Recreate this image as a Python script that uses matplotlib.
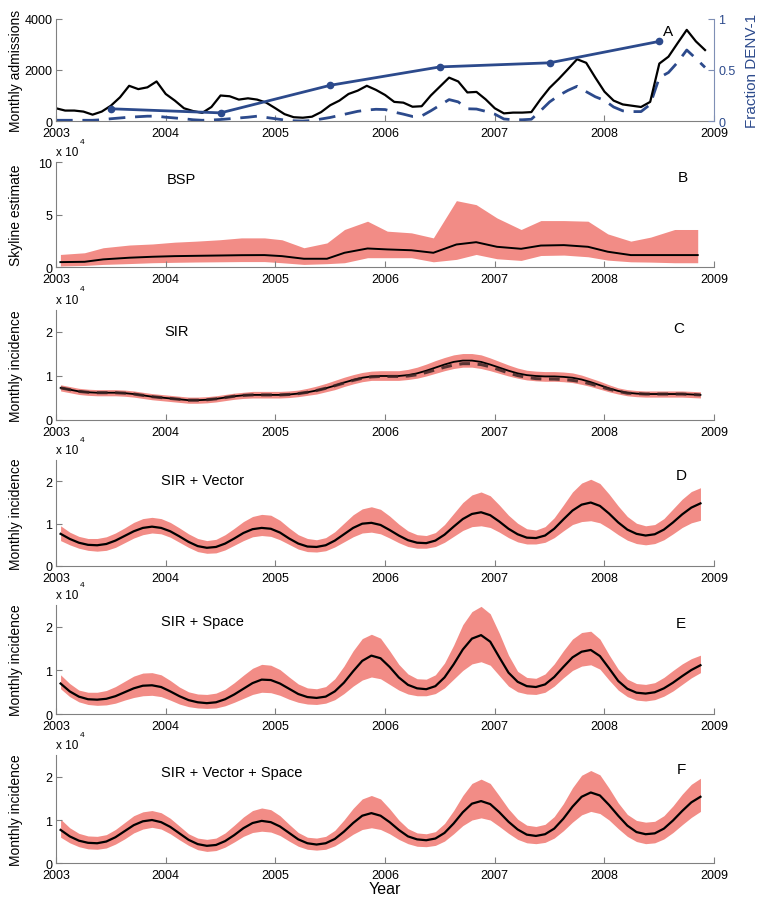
import numpy as np
import matplotlib
matplotlib.use('Agg')
import matplotlib.pyplot as plt

plt.rcParams['font.family'] = ['Liberation Sans Narrow', 'Liberation Sans', 'DejaVu Sans']

# ---- data ----
year_ticks = [2003, 2004, 2005, 2006, 2007, 2008, 2009]

# panel A: monthly admissions (Jan 2003 .. Dec 2008)
admissions = [500, 410, 410, 370, 250, 370, 600, 930, 1380, 1250, 1320, 1550,
              1060, 800, 500, 390, 320, 550, 1000, 970, 840, 890, 840, 720,
              500, 270, 150, 130, 170, 350, 620, 800, 1060, 1190, 1380, 1220,
              1020, 750, 720, 560, 580, 1000, 1350, 1700, 1550, 1120, 1140, 850,
              500, 300, 330, 330, 350, 850, 1300, 1650, 2030, 2420, 2280, 1700,
              1150, 800, 650, 600, 550, 750, 2250, 2520, 3050, 3570, 3120, 2780]
denv1_admissions = [30, 30, 30, 30, 30, 50, 90, 120, 150, 170, 190, 190,
                    150, 120, 90, 50, 30, 40, 60, 90, 120, 150, 190, 140,
                    90, 40, 10, 0, 20, 80, 140, 220, 300, 380, 430, 460,
                    450, 350, 270, 180, 200, 400, 620, 840, 750, 480, 470, 380,
                    270, 80, 50, 50, 70, 400, 750, 1000, 1200, 1360, 1150, 950,
                    810, 550, 400, 370, 370, 650, 1700, 1900, 2300, 2780, 2450, 2100]
frac_years = [2003.5, 2004.5, 2005.5, 2006.5, 2007.5, 2008.5]
frac_denv1 = [0.12, 0.08, 0.35, 0.53, 0.57, 0.78]

# panel B: skyline (x 10^4)
bsp_t = [2003.04, 2003.26, 2003.43, 2003.67, 2003.88, 2004.08, 2004.28, 2004.49, 2004.69, 2004.9,
         2005.06, 2005.26, 2005.47, 2005.63, 2005.84, 2006.02, 2006.24, 2006.44, 2006.65, 2006.83,
         2007.02, 2007.24, 2007.42, 2007.63, 2007.85, 2008.03, 2008.24, 2008.42, 2008.64, 2008.85]
bsp_hi = [1.2, 1.36, 1.84, 2.1, 2.2, 2.37, 2.47, 2.6, 2.78, 2.78, 2.6, 1.84, 2.3, 3.58, 4.37,
          3.42, 3.26, 2.78, 6.33, 5.95, 4.68, 3.58, 4.43, 4.43, 4.37, 3.16, 2.47, 2.85, 3.58, 3.58]
bsp_med = [0.47, 0.5, 0.73, 0.89, 0.98, 1.04, 1.07, 1.1, 1.13, 1.14, 1.04, 0.79, 0.79, 1.36, 1.77,
           1.68, 1.6, 1.36, 2.15, 2.37, 1.93, 1.74, 2.05, 2.09, 1.93, 1.46, 1.14, 1.14, 1.14, 1.14]
bsp_lo = [0.1, 0.15, 0.25, 0.33, 0.41, 0.45, 0.48, 0.5, 0.52, 0.52, 0.41, 0.25, 0.32, 0.41, 0.89,
          0.89, 0.89, 0.5, 0.73, 1.2, 0.79, 0.63, 1.1, 1.14, 0.98, 0.66, 0.5, 0.47, 0.41, 0.41]

# panels C-F: monthly incidence (x 10^4), mid-month Jan 2003 .. Nov 2008
sir_med = [.73, .69, .65, .63, .62, .62, .62, .61, .59, .56, .53, .51,
           .49, .47, .45, .45, .46, .48, .51, .54, .56, .57, .57, .57,
           .57, .58, .60, .63, .67, .72, .78, .85, .91, .96, .99, 1.00,
           1.00, 1.00, 1.02, 1.06, 1.12, 1.19, 1.26, 1.32, 1.35, 1.35, 1.32, 1.26,
           1.19, 1.12, 1.06, 1.02, 1.00, .99, .99, .98, .96, .92, .86, .79,
           .72, .66, .62, .60, .59, .59, .59, .59, .59, .58, .57]
sir_alt = [.73, .69, .65, .63, .62, .62, .62, .61, .59, .56, .53, .51,
           .49, .47, .45, .45, .46, .48, .51, .54, .56, .57, .57, .57,
           .57, .58, .60, .63, .67, .72, .78, .84, .90, .95, .98, .99,
           .99, .99, 1.00, 1.03, 1.08, 1.14, 1.20, 1.25, 1.28, 1.28, 1.26, 1.21,
           1.14, 1.07, 1.01, .97, .94, .93, .93, .92, .90, .87, .82, .76,
           .70, .65, .61, .60, .59, .59, .59, .59, .59, .58, .57]
sir_hi = [.80, .76, .72, .70, .69, .69, .69, .68, .66, .63, .60, .58,
          .56, .54, .52, .52, .53, .55, .58, .61, .63, .65, .65, .65,
          .65, .66, .68, .72, .77, .83, .90, .97, 1.03, 1.08, 1.11, 1.12,
          1.12, 1.12, 1.15, 1.20, 1.27, 1.35, 1.42, 1.48, 1.51, 1.51, 1.48, 1.41,
          1.33, 1.25, 1.18, 1.13, 1.11, 1.10, 1.10, 1.09, 1.07, 1.02, .95, .88,
          .80, .73, .69, .67, .66, .66, .66, .66, .66, .65, .64]
sir_lo = [.66, .62, .58, .56, .55, .55, .55, .54, .52, .49, .46, .44,
          .42, .40, .38, .38, .39, .41, .44, .47, .49, .50, .50, .50,
          .50, .51, .53, .56, .59, .64, .69, .76, .82, .87, .90, .90,
          .90, .90, .92, .95, 1.00, 1.06, 1.12, 1.17, 1.20, 1.20, 1.17, 1.12,
          1.06, 1.00, .95, .91, .89, .88, .88, .87, .85, .81, .76, .70,
          .64, .59, .55, .53, .52, .52, .52, .52, .52, .51, .50]

vec_med = [.76, .64, .55, .50, .49, .52, .60, .71, .82, .90, .93, .90,
           .82, .70, .57, .47, .43, .45, .53, .65, .78, .87, .90, .88,
           .79, .65, .53, .46, .45, .49, .60, .75, .90, 1.00, 1.02, .97,
           .85, .72, .61, .55, .54, .60, .74, .93, 1.11, 1.23, 1.27, 1.20,
           1.05, .88, .75, .67, .66, .72, .88, 1.10, 1.31, 1.45, 1.50, 1.42,
           1.24, 1.03, .86, .76, .72, .75, .86, 1.03, 1.22, 1.38, 1.48]
vec_hi = [.95, .80, .70, .65, .65, .69, .78, .90, 1.03, 1.12, 1.15, 1.12,
          1.03, .90, .76, .65, .60, .63, .74, .89, 1.05, 1.17, 1.22, 1.20,
          1.08, .90, .74, .65, .62, .67, .81, 1.01, 1.21, 1.35, 1.40, 1.34,
          1.18, .99, .83, .74, .72, .79, .98, 1.24, 1.50, 1.68, 1.75, 1.66,
          1.44, 1.20, 1.01, .88, .85, .93, 1.14, 1.44, 1.75, 1.96, 2.05, 1.95,
          1.70, 1.42, 1.17, 1.01, .95, .98, 1.12, 1.35, 1.58, 1.76, 1.85]
vec_lo = [.60, .50, .42, .37, .35, .37, .44, .55, .66, .74, .78, .76,
          .68, .56, .44, .34, .30, .31, .38, .49, .60, .69, .72, .70,
          .62, .51, .40, .34, .33, .36, .45, .57, .69, .78, .80, .76,
          .66, .55, .46, .42, .42, .46, .56, .70, .84, .93, .95, .91,
          .80, .67, .57, .52, .52, .56, .67, .83, .98, 1.05, 1.07, 1.02,
          .89, .74, .61, .53, .50, .53, .62, .76, .91, 1.02, 1.08]

spc_med = [.70, .52, .40, .34, .33, .35, .41, .50, .59, .65, .66, .62,
           .52, .41, .32, .27, .25, .27, .34, .45, .58, .71, .79, .78,
           .70, .58, .46, .39, .37, .40, .52, .72, .98, 1.22, 1.34, 1.28,
           1.08, .84, .67, .59, .57, .64, .84, 1.14, 1.48, 1.73, 1.81, 1.66,
           1.30, .95, .74, .64, .62, .68, .85, 1.08, 1.30, 1.43, 1.47, 1.33,
           1.05, .76, .58, .49, .47, .50, .59, .72, .87, 1.01, 1.12]
spc_hi = [.90, .70, .55, .50, .50, .54, .63, .75, .87, .94, .95, .90,
          .77, .62, .51, .46, .45, .48, .57, .72, .89, 1.05, 1.14, 1.12,
          1.02, .85, .69, .60, .58, .63, .81, 1.10, 1.45, 1.73, 1.83, 1.74,
          1.45, 1.14, .92, .81, .80, .90, 1.17, 1.58, 2.05, 2.35, 2.47, 2.30,
          1.85, 1.35, .98, .84, .82, .92, 1.15, 1.45, 1.72, 1.87, 1.90, 1.72,
          1.36, 1.03, .80, .70, .68, .72, .84, 1.00, 1.15, 1.27, 1.35]
spc_lo = [.58, .40, .28, .22, .20, .21, .25, .32, .38, .42, .43, .40,
          .32, .23, .17, .14, .13, .14, .19, .27, .36, .45, .50, .49,
          .43, .34, .27, .23, .22, .25, .33, .47, .64, .78, .85, .81,
          .68, .55, .46, .42, .42, .47, .60, .80, 1.00, 1.15, 1.20, 1.12,
          .88, .64, .51, .46, .45, .50, .64, .83, 1.00, 1.10, 1.13, 1.03,
          .78, .55, .40, .32, .30, .33, .41, .53, .68, .83, .95]

vs_med = [.77, .62, .52, .47, .46, .50, .60, .74, .88, .97, 1.00, .95,
          .84, .69, .54, .44, .40, .42, .51, .65, .81, .93, .98, .95,
          .85, .70, .55, .46, .43, .46, .56, .73, .93, 1.10, 1.16, 1.10,
          .95, .77, .62, .55, .53, .57, .70, .92, 1.18, 1.38, 1.44, 1.37,
          1.18, .96, .78, .66, .63, .67, .80, 1.03, 1.31, 1.54, 1.64, 1.57,
          1.35, 1.10, .87, .72, .67, .69, .80, .99, 1.21, 1.41, 1.54]
vs_hi = [1.02, .82, .69, .63, .62, .66, .78, .94, 1.10, 1.19, 1.22, 1.17,
         1.04, .86, .68, .58, .55, .58, .70, .88, 1.07, 1.22, 1.28, 1.24,
         1.10, .90, .71, .60, .58, .62, .76, 1.00, 1.27, 1.49, 1.57, 1.49,
         1.26, 1.00, .80, .70, .68, .73, .92, 1.22, 1.57, 1.85, 1.95, 1.85,
         1.56, 1.26, 1.02, .88, .85, .90, 1.08, 1.38, 1.75, 2.04, 2.15, 2.05,
         1.74, 1.40, 1.13, .99, .95, .97, 1.10, 1.33, 1.60, 1.83, 1.97]
vs_lo = [.60, .47, .38, .33, .32, .35, .44, .56, .70, .79, .83, .79,
         .68, .54, .41, .31, .27, .29, .37, .49, .62, .71, .74, .72,
         .64, .51, .39, .32, .30, .32, .40, .53, .67, .78, .82, .78,
         .68, .55, .45, .39, .38, .41, .51, .68, .87, 1.00, 1.05, 1.00,
         .85, .69, .55, .47, .45, .48, .58, .75, .95, 1.12, 1.20, 1.15,
         1.00, .80, .62, .50, .45, .47, .56, .71, .89, 1.06, 1.20]

months_a = 2003 + np.arange(len(admissions)) / 12.0
months_m = 2003 + (np.arange(len(sir_med)) + 0.5) / 12.0

band = '#f28c86'
blue = '#2c4a8c'
grey = '#808080'
label_font = ['Liberation Sans', 'DejaVu Sans']

fig = plt.figure(figsize=(7.6, 9.04), dpi=100)

left, width = 0.0737, 0.866
boxes = {'A': (0.865, 0.113), 'B': (0.7035, 0.116), 'C': (0.5343, 0.1217),
         'D': (0.3728, 0.117), 'E': (0.209, 0.1206), 'F': (0.0442, 0.119)}


def style(ax):
    ax.spines['top'].set_visible(False)
    ax.spines['right'].set_visible(False)
    for s in ['left', 'bottom']:
        ax.spines[s].set_color(grey)
        ax.spines[s].set_linewidth(0.8)
    ax.tick_params(direction='in', length=4, color=grey, labelsize=9)
    ax.tick_params(axis='x', pad=4.5)
    ax.tick_params(axis='y', pad=2.5)
    ax.set_xlim(2003, 2009)
    ax.set_xticks(year_ticks)
    ax.set_xticklabels([str(y) for y in year_ticks])
    ax.patch.set_alpha(0)


def ylab(ax, text):
    ax.set_ylabel(text, family=label_font, fontsize=10)
    ax.yaxis.set_label_coords(-0.05, 0.5)


def exponent(ax):
    ax.text(0.0, 1.04, 'x 10', transform=ax.transAxes, fontsize=8.5, va='bottom', ha='left')
    ax.text(0.036, 1.16, '4', transform=ax.transAxes, fontsize=6, va='bottom', ha='left')


# ---- A ----
axA = fig.add_axes([left, boxes['A'][0], width, boxes['A'][1]])
style(axA)
axA.plot(months_a, denv1_admissions, color=blue, lw=2, dashes=(6, 3.5))
axA.plot(months_a, admissions, color='black', lw=1.6)
axA.set_ylim(0, 4000)
axA.set_yticks([0, 2000, 4000])
ylab(axA, 'Monthly admissions')
axA.text(2008.58, 3530, 'A', fontsize=11, ha='center', va='center')

axR = axA.twinx()
axR.plot(frac_years, frac_denv1, color=blue, lw=2, marker='o', ms=4.5)
axR.set_ylim(0, 1)
axR.set_yticks([0, 0.5, 1])
axR.set_yticklabels(['0', '0.5', '1'])
axR.spines['top'].set_visible(False)
axR.spines['left'].set_visible(False)
axR.spines['bottom'].set_visible(False)
axR.spines['right'].set_color('#7f8fb5')
axR.tick_params(direction='in', length=4, color='#7f8fb5', labelcolor=blue, labelsize=9, pad=3)
axR.set_ylabel('Fraction DENV-1', color=blue, family=label_font, fontsize=11)
axR.yaxis.set_label_coords(1.047, 0.5)
axR.set_xlim(2003, 2009)

# ---- B ----
axB = fig.add_axes([left, boxes['B'][0], width, boxes['B'][1]])
style(axB)
axB.fill_between(bsp_t, bsp_lo, bsp_hi, color=band, lw=0)
axB.plot(bsp_t, bsp_med, color='black', lw=1.4)
axB.set_ylim(0, 10)
axB.set_yticks([0, 5, 10])
ylab(axB, 'Skyline estimate')
exponent(axB)
axB.text(2004.01, 8.4, 'BSP', fontsize=10.5, va='center')
axB.text(2008.71, 8.6, 'B', fontsize=11, ha='center', va='center')

# ---- C ----
axC = fig.add_axes([left, boxes['C'][0], width, boxes['C'][1]])
style(axC)
axC.fill_between(months_m, sir_lo, sir_hi, color=band, lw=0)
axC.plot(months_m, sir_med, color='black', lw=1.3)
axC.plot(months_m, sir_alt, color='#3d2424', lw=2.2, dashes=(3.5, 2.5), alpha=0.85)
axC.set_ylim(0, 2.5)
axC.set_yticks([0, 1, 2])
ylab(axC, 'Monthly incidence')
exponent(axC)
axC.text(2003.99, 2.02, 'SIR', fontsize=10.5, va='center')
axC.text(2008.68, 2.09, 'C', fontsize=11, ha='center', va='center')

# ---- D, E, F ----
panels = [('D', 'SIR + Vector', vec_lo, vec_med, vec_hi, 2.04, 2.15),
          ('E', 'SIR + Space', spc_lo, spc_med, spc_hi, 2.13, 2.09),
          ('F', 'SIR + Vector + Space', vs_lo, vs_med, vs_hi, 2.12, 2.19)]
for key, title, lo, med, hi, ty, ly in panels:
    ax = fig.add_axes([left, boxes[key][0], width, boxes[key][1]])
    style(ax)
    ax.fill_between(months_m, lo, hi, color=band, lw=0)
    ax.plot(months_m, med, color='black', lw=1.6)
    ax.set_ylim(0, 2.5)
    ax.set_yticks([0, 1, 2])
    ylab(ax, 'Monthly incidence')
    exponent(ax)
    ax.text(2003.96, ty, title, fontsize=10.5, va='center')
    ax.text(2008.7, ly, key, fontsize=11, ha='center', va='center')
    if key == 'F':
        ax.set_xlabel('Year', family=label_font, fontsize=11.5)
        ax.xaxis.set_label_coords(0.5, -0.17)

fig.savefig('out.png', dpi=100)
